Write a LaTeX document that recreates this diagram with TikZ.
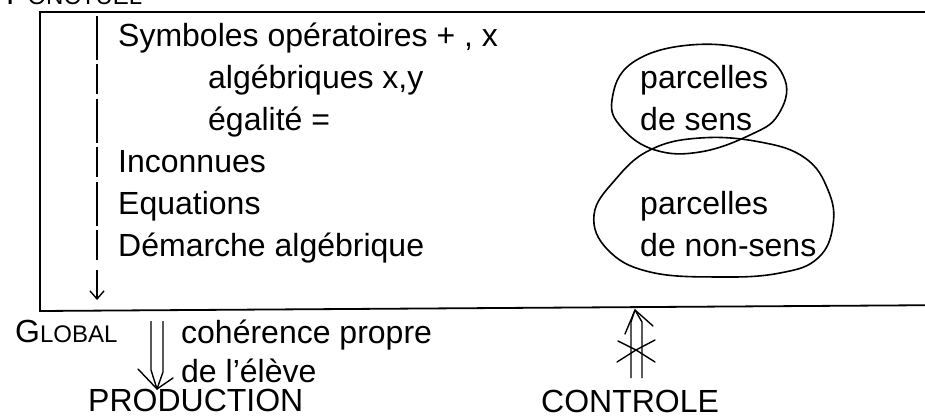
\documentclass[tikz,border=0pt]{standalone}
\usepackage{fontspec}
\setmainfont{Liberation Sans}
\usetikzlibrary{arrows.meta}
\newcommand\bigtxt{\fontsize{32}{38}\selectfont}
\newcommand\smallcp{\fontsize{24}{28}\selectfont}
\begin{document}
\begin{tikzpicture}[x=1pt,y=-1pt,
  txt/.style={anchor=base west,inner sep=0pt,font=\bigtxt},
  frame/.style={line width=1.8pt},
  loop/.style={line width=1.6pt},
  pen/.style={line width=1.4pt},
  barb/.style={line width=1.4pt,line cap=round}]
\useasboundingbox (0,0) rectangle (925,419);
% frame (right side outside the picture)
\draw[frame] (960,12) -- (40,12) -- (40,311) -- (960,305);
% top label, cut by the picture edge
\node[txt] (ponct) at (6,5) {P{\smallcp ONCTUEL}};
% text lines
\node[txt] (l1) at (118,47) {Symboles opératoires + , x};
\node[txt] (l2) at (208,89) {algébriques x,y};
\node[txt] (l3) at (208,131) {égalité =};
\node[txt] (l4) at (118,173) {Inconnues};
\node[txt] (l5) at (118,215) {Equations};
\node[txt] (l6) at (118,257) {Démarche algébrique};
\node[txt] (r1) at (640,89) {parcelles};
\node[txt] (r2) at (640,131) {de sens};
\node[txt] (r3) at (640,215) {parcelles};
\node[txt] (r4) at (640,257) {de non-sens};
% vertical broken line with arrow
\coordinate (vtop) at (97,16);
\coordinate (vend) at (97,262);
\coordinate (atop) at (97,270);
\coordinate (abot) at (97,300);
\draw[pen,dash pattern=on 44pt off 4pt on 30pt off 5pt] (vtop) -- (vend);
\draw[pen,-{Straight Barb[length=8pt,width=14pt]}] (atop) -- (abot);
% loops
\draw[loop] plot[smooth cycle,tension=0.7] coordinates {
  (612,100) (632,63) (690,45) (755,52) (785,80) (778,115) (750,135)
  (700,152) (655,150) (622,128)};
\draw[loop] plot[smooth cycle,tension=0.7] coordinates {
  (650,150) (700,138) (760,142) (805,158) (828,190) (833,225) (818,258)
  (780,273) (720,277) (650,272) (608,250) (594,215) (615,180)};
% bottom labels
\node[txt] (glob) at (15,342) {G{\smallcp LOBAL}};
\node[txt] (coh1) at (181,343) {cohérence propre};
\node[txt] (coh2) at (181,382) {de l\symbol{39}élève};
\node[txt] (prod) at (88,411) {PRODUCTION};
\node[txt] (ctrl) at (541,412) {CONTROLE};
% double arrow to PRODUCTION
\coordinate (d1) at (151,321);
\coordinate (d2) at (163,321);
\coordinate (dtip) at (157,389);
\coordinate (dbl) at (138,369);
\coordinate (dbr) at (173,378);
\draw[pen] (d1) -- (151,370) -- (dtip);
\draw[pen] (d2) -- (163,372) -- (dtip);
\draw[barb] (dbl) -- (dtip) -- (dbr);
% blocked double arrow to CONTROLE
\coordinate (ctip) at (635,310);
\coordinate (c1) at (631,378);
\coordinate (c2) at (642,378);
\draw[pen] (c1) -- (631,322) -- (ctip);
\draw[pen] (c2) -- (642,322) -- (ctip);
\draw[barb] (625,334) -- (ctip) -- (653,326);
\draw[barb] (618,341) -- (636,350) -- (655,340);
\draw[barb] (617,362) -- (636,350) -- (655,362);
\end{tikzpicture}
\end{document}
